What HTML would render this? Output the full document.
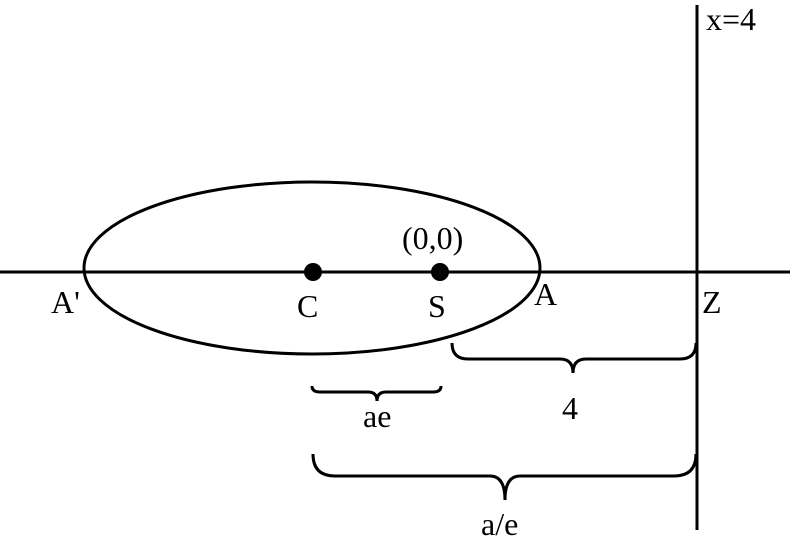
<!DOCTYPE html>
<html><head><style>body{margin:0;background:#fff}</style></head><body>
<svg width="790" height="540" xmlns="http://www.w3.org/2000/svg" font-family="Liberation Serif, serif" font-size="32">
<rect width="790" height="540" fill="#fff"/>
<g fill="none" stroke="#000" stroke-width="3">
<line x1="0" y1="272" x2="790" y2="272"/>
<line x1="697" y1="5" x2="697" y2="530"/>
<ellipse cx="312" cy="268" rx="228" ry="86"/>
<path d="M452,343 Q452,359 468,359 L560,359 Q573,359 573,373 Q573,359 586,359 L680,359 Q696,359 696,343"/>
<path d="M312,386 Q312,392 320,392 L368,392 Q377,392 377,401 Q377,392 386,392 L433,392 Q441,392 441,386"/>
<path d="M313,454 Q313,476 335,476 L490,476 Q505,476 505,500 Q505,476 520,476 L674,476 Q696,476 696,454"/>
</g>
<circle cx="313" cy="272" r="9"/>
<circle cx="440" cy="272" r="9"/>
<text x="706" y="30">x=4</text>
<text x="402" y="249">(0,0)</text>
<text x="51" y="313">A'</text>
<text x="297" y="317">C</text>
<text x="428" y="317">S</text>
<text x="534" y="305">A</text>
<text x="702" y="313">Z</text>
<text x="562" y="419">4</text>
<text x="363" y="427">ae</text>
<text x="481" y="535">a/e</text>
</svg>
</body></html>
